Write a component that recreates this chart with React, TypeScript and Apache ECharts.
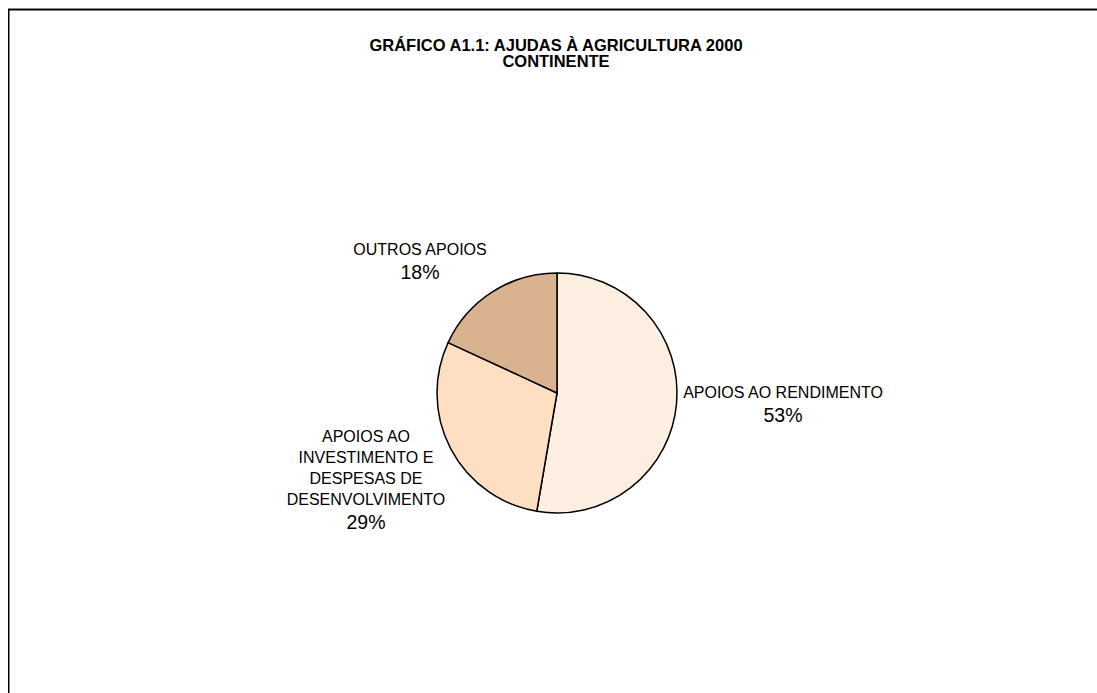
import React, { useEffect, useRef } from "react";
import * as echarts from "echarts";

const categories = ["APOIOS AO RENDIMENTO", "APOIOS AO INVESTIMENTO E DESPESAS DE DESENVOLVIMENTO", "OUTROS APOIOS"];
const labelLines = ["APOIOS AO RENDIMENTO", "APOIOS AO\nINVESTIMENTO E\nDESPESAS DE\nDESENVOLVIMENTO", "OUTROS APOIOS"];
const values = [52.7, 29.2, 18.1];
const colors = ["#FDEEE2", "#FEDFC2", "#D9B28F"];
const titleLines = ["GRÁFICO A1.1: AJUDAS À AGRICULTURA 2000", "CONTINENTE"];

const labelPos = [
  { x: 775, y: 397 },
  { x: 358, y: 473 },
  { x: 412, y: 254 },
];

const FONT = "'Liberation Sans', Arial, sans-serif";

export default function App() {
  const ref = useRef<HTMLDivElement>(null);
  useEffect(() => {
    if (!ref.current) return;
    document.documentElement.style.overflow = "hidden";
    document.body.style.overflow = "hidden";
    const chart = echarts.init(ref.current, null, { renderer: "svg" });
    const total = values.reduce((a, b) => a + b, 0);
    const titleStyle = {
      fontFamily: FONT,
      fontSize: 16.5,
      fontWeight: "bold",
      color: "#000",
    };
    chart.setOption({
      animation: false,
      backgroundColor: "#ffffff",
      graphic: [
        { type: "line", shape: { x1: 0, y1: 0.5, x2: 1100, y2: 0.5 }, style: { stroke: "#888", lineWidth: 1 } },
        { type: "line", shape: { x1: 0, y1: 1.75, x2: 1100, y2: 1.75 }, style: { stroke: "#000", lineWidth: 1.5 } },
        { type: "line", shape: { x1: 0.75, y1: 1, x2: 0.75, y2: 700 }, style: { stroke: "#000", lineWidth: 1.5 } },
      ],
      title: titleLines.map((t, i) => ({
        text: t,
        left: 548,
        top: 28 + i * 16.5,
        padding: 0,
        textAlign: "center",
        textStyle: titleStyle,
      })),
      series: [
        {
          type: "pie",
          center: [549, 385],
          radius: [0, 120],
          startAngle: 90,
          clockwise: true,
          avoidLabelOverlap: false,
          data: categories.map((c, i) => ({
            name: c,
            value: values[i],
            itemStyle: { color: colors[i] },
          })),
          itemStyle: { borderColor: "#000", borderWidth: 1.5 },
          label: {
            show: true,
            position: "outside",
            align: "center",
            fontFamily: FONT,
            color: "#000",
            formatter: (p: any) =>
              `{n|${labelLines[p.dataIndex]}}\n{p|${Math.round((values[p.dataIndex] / total) * 100)}%}`,
            rich: {
              n: { fontFamily: FONT, fontSize: 16, lineHeight: 20.7, color: "#000", align: "center" },
              p: { fontFamily: FONT, fontSize: 19.5, lineHeight: 26, color: "#000", align: "center" },
            },
          },
          labelLine: { show: false },
          labelLayout: (params: any) => ({
            x: labelPos[params.dataIndex].x,
            y: labelPos[params.dataIndex].y,
            align: "center",
            verticalAlign: "middle",
          }),
          emphasis: { disabled: true },
        },
      ],
    });
    return () => chart.dispose();
  }, []);
  return (
    <div style={{ position: "fixed", left: 8, top: 8, width: 1089, height: 685, background: "#fff" }}>
      <div ref={ref} style={{ position: "absolute", left: 0, top: 0, width: 1089, height: 685 }} />
    </div>
  );
}
